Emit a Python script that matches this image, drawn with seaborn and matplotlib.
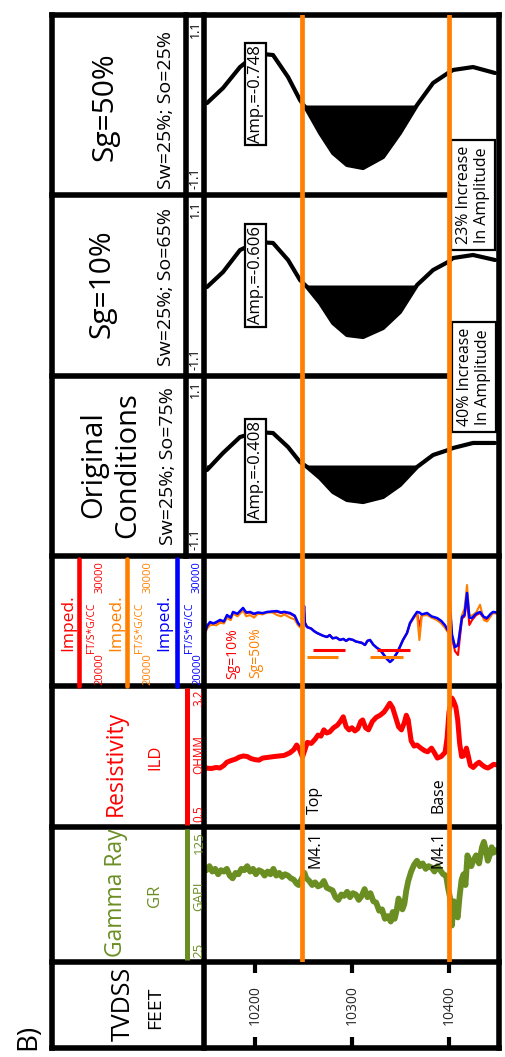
import numpy as np
import matplotlib
matplotlib.use("Agg")
import matplotlib.pyplot as plt
import seaborn as sns

# ---------------- data ----------------
depth_range = [10148.5, 10449.5]
depth_ticks = [10200, 10300, 10400]
tops_depth = [10248, 10400]

gr_depth = [10150, 10153, 10156, 10159, 10162, 10165, 10168, 10171, 10174, 10177,
            10180, 10183, 10186, 10189, 10192, 10195, 10198, 10201, 10204, 10207,
            10210, 10213, 10216, 10219, 10222, 10225, 10228, 10231, 10234, 10237,
            10240, 10243, 10245, 10247, 10249, 10251, 10253, 10256, 10259, 10262,
            10265, 10268, 10271, 10274, 10277, 10280, 10283, 10286, 10289, 10292,
            10295, 10298, 10301, 10304, 10307, 10310, 10313, 10316, 10319, 10322,
            10325, 10328, 10331, 10334, 10337, 10340, 10342, 10344, 10346, 10348,
            10350, 10352, 10354, 10356, 10358, 10361, 10364, 10367, 10370, 10373,
            10376, 10379, 10382, 10385, 10388, 10391, 10394, 10397, 10399, 10401,
            10403, 10405, 10407, 10409, 10411, 10413, 10415, 10417, 10419, 10421,
            10423, 10425, 10428, 10431, 10434, 10436, 10438, 10440, 10442, 10444,
            10446, 10449]
gr_val = [93, 96, 92, 94, 90, 93, 92, 94, 89, 87,
          91, 90, 94, 93, 96, 92, 94, 90, 93, 92,
          89, 92, 90, 94, 89, 91, 88, 90, 89, 87,
          86, 83, 82, 85, 88, 91, 87, 85, 82, 84,
          81, 82, 85, 80, 79, 78, 73, 71, 75, 74,
          77, 73, 76, 75, 71, 74, 79, 73, 76, 70,
          69, 63, 64, 57, 59, 55, 62, 57, 63, 72,
          69, 64, 68, 78, 85, 92, 97, 100, 96, 98,
          94, 96, 95, 92, 96, 93, 90, 89, 80, 73,
          52, 70, 62, 58, 74, 86, 90, 82, 104, 100,
          96, 100, 104, 98, 110, 114, 108, 100, 104, 110,
          106, 108]

res_depth = [10149, 10155, 10160, 10164, 10168, 10171, 10175, 10180, 10184, 10188,
             10192, 10196, 10200, 10204, 10208, 10212, 10216, 10220, 10225, 10230,
             10236, 10240, 10243, 10246, 10249, 10251, 10254, 10258, 10262, 10265,
             10268, 10271, 10274, 10277, 10281, 10285, 10288, 10291, 10294, 10297,
             10300, 10303, 10306, 10309, 10311, 10314, 10317, 10321, 10325, 10329,
             10333, 10336, 10339, 10342, 10345, 10348, 10351, 10354, 10356, 10358,
             10361, 10364, 10367, 10371, 10375, 10378, 10382, 10385, 10388, 10392,
             10396, 10398, 10400, 10403, 10405, 10407, 10409, 10411, 10413, 10415,
             10418, 10420, 10422, 10425, 10428, 10431, 10434, 10437, 10440, 10443,
             10446, 10449]
res_val = [1.63, 1.62, 1.64, 1.63, 1.68, 1.74, 1.77, 1.80, 1.84, 1.86,
           1.85, 1.81, 1.79, 1.78, 1.82, 1.83, 1.84, 1.85, 1.86, 1.87,
           1.92, 1.98, 2.07, 1.98, 1.84, 1.95, 2.12, 2.10, 2.18, 2.26,
           2.24, 2.36, 2.30, 2.32, 2.40, 2.45, 2.52, 2.61, 2.42, 2.36,
           2.40, 2.34, 2.38, 2.52, 2.55, 2.40, 2.36, 2.52, 2.60, 2.64,
           2.70, 2.78, 2.87, 2.78, 2.60, 2.42, 2.36, 2.50, 2.64, 2.55,
           2.15, 2.05, 2.07, 2.01, 1.96, 1.94, 2.01, 1.92, 1.82, 1.85,
           1.93, 2.20, 2.70, 2.97, 2.90, 2.80, 2.55, 2.10, 1.85, 1.86,
           2.01, 1.85, 1.68, 1.64, 1.70, 1.74, 1.69, 1.65, 1.63, 1.66,
           1.70, 1.69]

imp_depth = [10148.5, 10151.0, 10153.7, 10157.0, 10160.0, 10164.0, 10168.0, 10171.2, 10175.0, 10177.4,
             10182.0, 10187.7, 10191.0, 10194.9, 10199.0, 10203.0, 10208.0, 10212.4, 10218.0, 10222.7,
             10227.0, 10230.0, 10236.1, 10241.0, 10244.4, 10246.5, 10249.5, 10250.6, 10251.5, 10253.7,
             10258.0, 10261.0, 10264.0, 10270.0, 10274.3, 10277.0, 10280.0, 10284.0, 10287.7, 10291.0,
             10294.0, 10297.0, 10301.1, 10304.0, 10307.0, 10310.0, 10313.4, 10316.0, 10318.6, 10322.0,
             10325.8, 10329.0, 10332.0, 10336.0, 10339.2, 10342.0, 10346.4, 10349.5, 10352.6, 10356.7,
             10359.8, 10364.0, 10367.1, 10369.5, 10372.0, 10377.4, 10382.0, 10387.7, 10392.0, 10396.0,
             10398.5, 10400.5, 10401.5, 10403.1, 10406.2, 10409.3, 10413.4, 10416.0, 10418.6, 10421.0,
             10423.7, 10428.0, 10432.0, 10436.0, 10439.2, 10443.0, 10445.4, 10449.5]
imp_blue = [24190, 24700, 24960, 24850, 24950, 25120, 25000, 25500, 25300, 25740,
            25600, 26050, 25700, 25740, 25600, 25700, 25650, 25740, 25780, 25810,
            25700, 25750, 25660, 25450, 24880, 24700, 24800, 26200, 24900, 24570,
            24450, 24250, 24110, 23900, 23800, 23950, 23700, 23750, 23570, 23650,
            23500, 23650, 23570, 23450, 23400, 23350, 23180, 23500, 23570, 23200,
            22950, 22800, 22500, 22100, 21860, 22050, 22560, 23050, 23570, 24100,
            24880, 25400, 25740, 25700, 25550, 25660, 25400, 25270, 25050, 24700,
            24350, 24200, 25600, 24000, 23020, 23150, 25350, 25500, 27210, 25300,
            25270, 25600, 25740, 25350, 25270, 25600, 25740, 25700]
imp_orange = [24100, 24500, 24700, 24750, 24700, 24900, 24850, 25300, 25100, 25600,
              25400, 25850, 25400, 25500, 25300, 25600, 25550, 25700, 25700, 25500,
              25400, 25550, 25300, 25150, 24700, 24550, 24750, 25800, 24850, 24570,
              24450, 24250, 24110, 23900, 23800, 23950, 23700, 23750, 23570, 23650,
              23500, 23650, 23570, 23450, 23400, 23350, 23180, 23500, 23570, 23200,
              22950, 22800, 22500, 22100, 21860, 22050, 22560, 23050, 23570, 24100,
              24800, 25300, 25600, 23560, 25450, 25500, 25300, 25100, 24850, 24500,
              24200, 24100, 26500, 23800, 23100, 23300, 25500, 26000, 27830, 25500,
              25450, 25700, 26300, 25100, 25000, 25400, 25700, 25600]
imp_red = [24150, 24650, 24900, 24800, 24900, 25050, 24950, 25450, 25250, 25700,
           25550, 26000, 25650, 25700, 25550, 25650, 25600, 25720, 25750, 25750,
           25650, 25700, 25600, 25400, 24800, 24650, 24780, 26000, 24880, 24570,
           24450, 24250, 24110, 23900, 23800, 23950, 23700, 23750, 23570, 23650,
           23500, 23650, 23570, 23450, 23400, 23350, 23180, 23500, 23570, 23200,
           22950, 22800, 22500, 22100, 21860, 22050, 22560, 23050, 23570, 24100,
           24850, 25350, 25700, 24600, 25500, 25600, 25350, 25200, 24950, 24600,
           24300, 24150, 25300, 23700, 22700, 22400, 25200, 25400, 26800, 24730,
           25100, 25500, 25650, 25250, 25150, 25500, 25650, 25650]

sub_sg10_start = [10260, 10326]
sub_sg10_end = [10293, 10360]
sub_sg10_val = 22790
sub_sg50_start = [10254, 10319]
sub_sg50_end = [10286, 10353]
sub_sg50_val = 22250

syn_depth = [10150.6, 10167.1, 10184.6, 10202.1, 10218.6, 10234.1, 10246.4, 10253.7, 10267.1, 10280.5,
             10294.9, 10311.4, 10332.0, 10349.5, 10367.1, 10383.6, 10399.0, 10404.2, 10424.8, 10447.5]
syn_sg50 = [0.024, 0.208, 0.464, 0.630, 0.611, 0.342, 0.061, -0.061, -0.342, -0.587,
            -0.733, -0.770, -0.636, -0.342, 0.000, 0.269, 0.391, 0.428, 0.464, 0.391]
syn_sg10 = [-0.018, 0.164, 0.431, 0.529, 0.517, 0.310, 0.067, -0.018, -0.213, -0.456,
            -0.602, -0.626, -0.517, -0.322, 0.006, 0.188, 0.286, 0.334, 0.371, 0.310]
syn_orig = [-0.055, 0.154, 0.350, 0.412, 0.399, 0.227, 0.043, -0.018, -0.154, -0.326,
            -0.424, -0.449, -0.387, -0.240, -0.018, 0.129, 0.190, 0.215, 0.277, 0.277]
amp_labels = ["Amp.=-0.748", "Amp.=-0.606", "Amp.=-0.408"]

assert len(gr_depth) == len(gr_val)
assert len(res_depth) == len(res_val)
assert len(imp_depth) == len(imp_blue) == len(imp_orange) == len(imp_red)

# ---------------- style ----------------
sns.set_theme(style="white")
plt.rcParams['font.family'] = ['Open Sans', 'DejaVu Sans']

GREEN = '#6B8E23'
RED = '#FF0000'
ORANGE = '#FF8000'
BLUE = '#0000FF'

W, H = 506, 1057
fig = plt.figure(figsize=(W / 100, H / 100), dpi=100)
fig.patch.set_facecolor('white')


def box(x0, y0, x1, y1):
    return [x0 / W, 1 - y1 / H, (x1 - x0) / W, (y1 - y0) / H]


DX0, DX1 = 205, 497


def data_ax(y0, y1, ylim):
    ax = fig.add_axes(box(DX0, y0, DX1, y1))
    ax.set_xlim(depth_range)
    ax.set_ylim(ylim)
    ax.axis('off')
    return ax


# synthetic seismic tracks
for (y0, y1), vals in [((15, 195), syn_sg50), ((195, 376), syn_sg10), ((376, 555), syn_orig)]:
    ax = data_ax(y0, y1, (-1.1, 1.1))
    v = np.array(vals)
    ax.fill_between(syn_depth, v, 0, where=v < 0, interpolate=True, color='black', lw=0)
    sns.lineplot(x=syn_depth, y=vals, ax=ax, color='black', lw=3.0, sort=False, estimator=None)

# impedance track
ax = data_ax(557, 686, (20000, 30000))
sns.lineplot(x=imp_depth, y=imp_red, ax=ax, color=RED, lw=1.5, sort=False, estimator=None)
sns.lineplot(x=imp_depth, y=imp_orange, ax=ax, color=ORANGE, lw=1.5, sort=False, estimator=None)
sns.lineplot(x=imp_depth, y=imp_blue, ax=ax, color=BLUE, lw=1.8, sort=False, estimator=None)
ax.hlines([sub_sg10_val] * 2, sub_sg10_start, sub_sg10_end, color=RED, lw=2.2)
ax.hlines([sub_sg50_val] * 2, sub_sg50_start, sub_sg50_end, color=ORANGE, lw=2.2)

# resistivity track
ax = data_ax(686, 827, (0.5, 3.2))
sns.lineplot(x=res_depth, y=res_val, ax=ax, color=RED, lw=3.6, sort=False, estimator=None)

# gamma ray track
ax = data_ax(827, 962, (25, 125))
sns.lineplot(x=gr_depth, y=gr_val, ax=ax, color=GREEN, lw=4.2, sort=False, estimator=None)

# depth track
axd = fig.add_axes(box(DX0, 962, DX1, 1048))
axd.set_xlim(depth_range)
axd.set_ylim(0, 1)
axd.set_facecolor('none')
for s in axd.spines.values():
    s.set_visible(False)
axd.set_yticks([])
axd.set_xticks(depth_ticks)
axd.tick_params(axis='x', direction='in', length=8, width=3, top=True, bottom=True,
                labelbottom=False, labeltop=False, color='black')
for d in depth_ticks:
    axd.text(d, 0.5, str(d), rotation=90, ha='center', va='center', fontsize=10,
             transform=axd.get_xaxis_transform())

# ---------------- overlay (frames + header text) ----------------
ov = fig.add_axes([0, 0, 1, 1])
ov.set_xlim(0, W)
ov.set_ylim(H, 0)
ov.axis('off')
ov.patch.set_alpha(0)

LW = 4.0


def L(xs, ys, color='black', lw=LW, cap='projecting'):
    ov.plot(xs, ys, color=color, lw=lw, solid_capstyle=cap, zorder=2)


L([52, 52], [15, 1048])
L([204.5, 204.5], [15, 1048])
L([499, 499], [15, 1048])
L([186, 186], [15, 556])
L([52, 499], [15, 15])
L([52, 499], [1048, 1048])
L([52, 452], [195, 195])
L([52, 452], [376, 376])
for yy in [556, 686, 827, 962]:
    L([52, 499], [yy, yy])

# header scale lines
L([187.5, 187.5], [829, 960], color=GREEN, lw=3.6, cap='butt')
L([187.5, 187.5], [688, 825], color=RED, lw=3.6, cap='butt')
for xx, col in [(79.5, RED), (127.5, ORANGE), (177.5, BLUE)]:
    L([xx, xx], [559, 686], color=col, lw=3.3, cap='round')


def T(x, y, s, size, color='black', va='center', ha='center', **kw):
    ov.text(x, y, s, fontsize=size, color=color, rotation=90, ha=ha, va=va, zorder=5, **kw)


# seismic headers
T(105, 107, "Sg=50%", 21.5)
T(166, 110, "Sw=25%; So=25%", 14)
T(102, 284, "Sg=10%", 21.5)
T(166, 287, "Sw=25%; So=65%", 14)
T(111, 465, "Original\nConditions", 21, linespacing=1.25)
T(168, 466, "Sw=25%; So=75%", 14)
for top, bot in [(15, 195), (195, 376), (376, 556)]:
    T(195.5, top + 5, "1.1", 9, va='top')
    T(195.5, bot - 6, "-1.1", 9, va='bottom')

# impedance header
for xi, xs, col in [(68.5, 100, RED), (116, 148, ORANGE), (164, 197.5, BLUE)]:
    T(xi, 623, "Imped.", 12.5, col)
    T(xs, 685, "20000", 8, col, va='bottom')
    T(xs - 8, 628, "FT/S*G/CC", 7.5, col)
    T(xs, 561, "30000", 8, col, va='top')

# resistivity header
T(116, 763, "Resistivity", 16.5, RED)
T(155, 757, "ILD", 12, RED)
T(199, 822, "0.5", 8.5, RED, va='bottom')
T(199, 755, "OHMM", 8.5, RED)
T(199, 689, "3.2", 8.5, RED, va='top')

# gamma ray header
T(116, 893, "Gamma Ray", 16.5, GREEN)
T(155, 896, "GR", 12, GREEN)
T(199, 958, "25", 9.5, GREEN, va='bottom')
T(199, 896, "GAPI", 9.5, GREEN)
T(199, 831, "125", 9.5, GREEN, va='top')

# depth header
T(123, 1004, "TVDSS", 18)
T(155, 1008, "FEET", 14)
T(28, 1037, "B)", 20)

# data-area annotations
T(233, 654, "Sg=10%", 10, RED)
T(256, 653, "Sg=50%", 10, ORANGE)
T(316, 831, "M4.1", 11.5, va='top')
T(315, 814, "Top", 11.5, va='bottom')
T(439, 831, "M4.1", 11.5, va='top')
T(439, 813, "Base", 11.5, va='bottom')

amp_box = dict(boxstyle='square,pad=0.15', fc='white', ec='black', lw=1.6)
for (yc, lab) in zip([94, 275, 470], amp_labels):
    T(256, yc, lab, 12, bbox=amp_box)

inc_box = dict(boxstyle='square,pad=0.35', fc='white', ec='black', lw=1.6)
T(473, 195, "23% Increase\nIn Amplitude", 11.5, bbox=inc_box, linespacing=1.1)
T(474, 377, "40% Increase\nIn Amplitude", 11.5, bbox=inc_box, linespacing=1.1)

# formation tops (orange) spanning the data tracks
axt = fig.add_axes(box(DX0, 15, DX1, 962))
axt.set_xlim(depth_range)
axt.set_ylim(0, 1)
axt.axis('off')
axt.patch.set_alpha(0)
for d in tops_depth:
    axt.axvline(d, color=ORANGE, lw=3.4)

fig.savefig("out.png", dpi=100)
